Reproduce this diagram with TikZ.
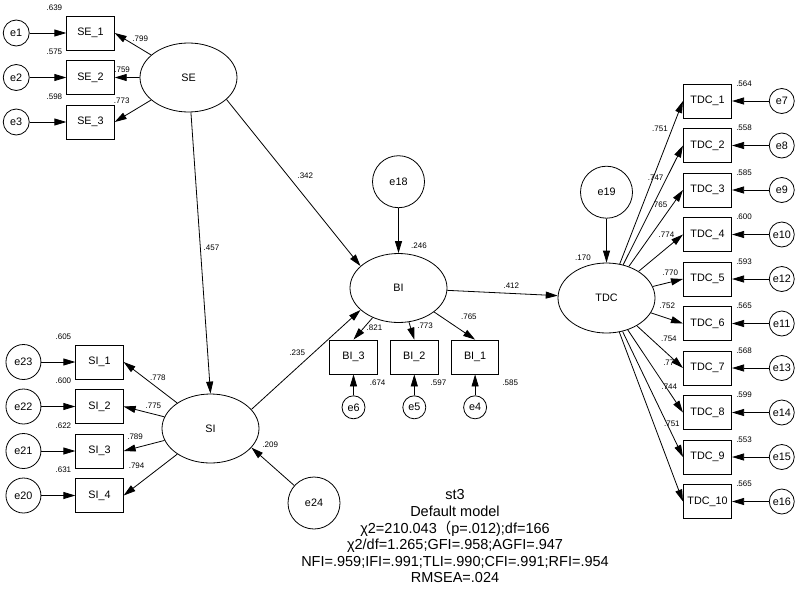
\documentclass[tikz,border=0pt]{standalone}
\usepackage{fontspec}
\setmainfont{Liberation Sans}
\newfontfamily\cjk{Noto Sans CJK SC}
\usetikzlibrary{arrows.meta,positioning,shapes.geometric}

\begin{document}
\begin{tikzpicture}[x=1pt,y=-1pt,node distance=9.7pt,>={Triangle[length=12pt,width=7pt]},
 box/.style={draw,line width=.8pt,minimum width=47.5pt,minimum height=34pt,inner sep=0pt,font=\fontsize{10.8}{13}\selectfont},
 lat/.style={draw,ellipse,line width=.8pt,minimum width=97pt,minimum height=69pt,inner sep=0pt,font=\fontsize{10.8}{13}\selectfont},
 err/.style={draw,circle,line width=.8pt,minimum size=#1,inner sep=0pt,font=\fontsize{10.8}{13}\selectfont},
 err/.default=26pt,
 lab/.style={font=\fontsize{8}{9.6}\selectfont,inner sep=1pt},
 rsq/.style={label={[lab,anchor=south east,xshift=-3pt,yshift=4pt]north west:#1}},
 rsqr/.style={label={[lab,anchor=west,xshift=3pt]north east:#1}},
 arr/.style={->,line width=.8pt}]
\useasboundingbox (0,0) rectangle (799,589);
\node[lat] (se) at (188.5,77.5) {SE};
\node[box,rsq=.639] (se1) at (90.5,33) {SE\_1};
\node[box,rsq=.575,below=of se1] (se2) {SE\_2};
\node[box,rsq=.598,below=of se2] (se3) {SE\_3};
\node[err,left=36.7pt of se1] (e1) {e1};
\node[err,left=36.7pt of se2] (e2) {e2};
\node[err,left=36.7pt of se3] (e3) {e3};
\node[lat] (si) at (210.5,428.5) {SI};
\node[box,rsq=.605] (si1) at (99.5,362) {SI\_1};
\node[box,rsq=.600,below=of si1] (si2) {SI\_2};
\node[box,rsq=.622,below=of si2] (si3) {SI\_3};
\node[box,rsq=.631,below=of si3] (si4) {SI\_4};
\node[err=35pt,left=34pt of si1] (e23) {e23};
\node[err=35pt,left=34pt of si2] (e22) {e22};
\node[err=35pt,left=34pt of si3] (e21) {e21};
\node[err=35pt,left=34pt of si4] (e20) {e20};
\node[err=52pt] (e24) at (314,503) {e24};
\node[lat,label={[lab,anchor=south west,xshift=11.5pt,yshift=3pt]north:.246}] (bi) at (398.5,288) {BI};
\node[err=52pt,above=45pt of bi] (e18) {e18};
\node[box,label={[lab,anchor=north,yshift=-4pt]south east:.674}] (bi3) at (353.5,357) {BI\_3};
\node[box,right=12.5pt of bi3,label={[lab,anchor=north,yshift=-4pt]south east:.597}] (bi2) {BI\_2};
\node[box,right=12.5pt of bi2,label={[lab,anchor=north,xshift=11pt,yshift=-4pt]south east:.585}] (bi1) {BI\_1};
\node[err=23pt,below=21pt of bi3] (e6) {e6};
\node[err=23pt,below=21pt of bi2] (e5) {e5};
\node[err=23pt,below=21pt of bi1] (e4) {e4};
\node[lat,minimum height=70pt,label={[lab,anchor=south east,xshift=-14.5pt,yshift=1pt]north:.170}] (tdc) at (606.5,298) {TDC};
\node[err=52pt,above=44pt of tdc] (e19) {e19};
\node[box,minimum width=48.3pt,rsqr=.564] (tdc1) at (707.5,101) {TDC\_1};
\node[box,minimum width=48.3pt,rsqr=.558,below=of tdc1] (tdc2) {TDC\_2};
\node[box,minimum width=48.3pt,rsqr=.585,below=of tdc2] (tdc3) {TDC\_3};
\node[box,minimum width=48.3pt,rsqr=.600,below=of tdc3] (tdc4) {TDC\_4};
\node[box,minimum width=48.3pt,rsqr=.593,below=of tdc4] (tdc5) {TDC\_5};
\node[box,minimum width=48.3pt,rsqr=.565,below=of tdc5] (tdc6) {TDC\_6};
\node[box,minimum width=48.3pt,rsqr=.568,below=of tdc6] (tdc7) {TDC\_7};
\node[box,minimum width=48.3pt,rsqr=.599,below=of tdc7] (tdc8) {TDC\_8};
\node[box,minimum width=48.3pt,rsqr=.553,below=of tdc8] (tdc9) {TDC\_9};
\node[box,minimum width=48.3pt,rsqr=.565,below=of tdc9] (tdc10) {TDC\_10};
\node[err=25pt,right=36.8pt of tdc1] (e7) {e7};
\node[err=25pt,right=36.8pt of tdc2] (e8) {e8};
\node[err=25pt,right=36.8pt of tdc3] (e9) {e9};
\node[err=25pt,right=36.8pt of tdc4] (e10) {e10};
\node[err=25pt,right=36.8pt of tdc5] (e12) {e12};
\node[err=25pt,right=36.8pt of tdc6] (e11) {e11};
\node[err=25pt,right=36.8pt of tdc7] (e13) {e13};
\node[err=25pt,right=36.8pt of tdc8] (e14) {e14};
\node[err=25pt,right=36.8pt of tdc9] (e15) {e15};
\node[err=25pt,right=36.8pt of tdc10] (e16) {e16};
\node[font=\fontsize{14.5}{16.6}\selectfont,align=center,inner sep=0pt,anchor=north] (fit) at (455,489.5) {st3\\Default model\\χ2=210.043{\cjk （}p=.012);df=166\\χ2/df=1.265;GFI=.958;AGFI=.947\\NFI=.959;IFI=.991;TLI=.990;CFI=.991;RFI=.954\\RMSEA=.024};
\draw[arr] (e1)--(se1);
\draw[arr] (e2)--(se2);
\draw[arr] (e3)--(se3);
\draw[arr] (se)--node[lab,pos=.3,above=5.5pt]{.799}(se1.east);
\draw[arr] (se)--node[lab,pos=.7,above=3.5pt]{.759}(se2.east);
\draw[arr] (se)--node[lab,pos=.5,above left=6pt and 2pt]{.773}(se3.east);
\draw[arr] (e23)--(si1);
\draw[arr] (e22)--(si2);
\draw[arr] (e21)--(si3);
\draw[arr] (e20)--(si4);
\draw[arr] (si)--node[lab,pos=.36,above=6pt]{.778}(si1.east);
\draw[arr] (si)--node[lab,pos=.27,above=4pt]{.775}(si2.east);
\draw[arr] (si)--node[lab,pos=.72,above=7pt]{.789}(si3.east);
\draw[arr] (si)--node[lab,pos=.55,above left=7pt and 2pt]{.794}(si4.east);
\draw[arr] (se)--node[lab,pos=.48,right=2pt]{.457}(si.north);
\draw[arr] (se.-30)--node[lab,pos=.46,right=8pt]{.342}(bi.150);
\draw[arr] (si.25)--node[lab,pos=.42,above=11pt]{.235}(bi.210);
\draw[arr] (e24)--node[lab,pos=.8,above right=6pt and 1pt]{.209}(si.-25);
\draw[arr] (e18)--(bi);
\draw[arr] (bi)--node[lab,pos=.44,right=1pt]{.821}(bi3.north);
\draw[arr] (bi)--node[lab,pos=.18,right=6pt]{.773}(bi2.north);
\draw[arr] (bi)--node[lab,pos=.6,above right=8pt and 1pt]{.765}(bi1.north);
\draw[arr] (e6)--(bi3);
\draw[arr] (e5)--(bi2);
\draw[arr] (e4)--(bi1);
\draw[arr] (bi)--node[lab,pos=.58,above=4pt]{.412}(tdc);
\draw[arr] (e19)--(tdc);
\draw[arr] (tdc)--node[lab,pos=.83,left=3pt]{.751}(tdc1.west);
\draw[arr] (tdc)--node[lab,pos=.73,left=2pt]{.747}(tdc2.west);
\draw[arr] (tdc)--node[lab,pos=.81,left=4pt]{.765}(tdc3.west);
\draw[arr] (tdc)--node[lab,pos=.85,above left=1pt]{.774}(tdc4.west);
\draw[arr] (tdc)--node[lab,pos=.58,above=5pt]{.770}(tdc5.west);
\draw[arr] (tdc)--node[lab,pos=.51,above=8pt]{.752}(tdc6.west);
\draw[arr] (tdc)--node[lab,pos=.45,above right=3pt]{.754}(tdc7.west);
\draw[arr] (tdc)--node[lab,pos=.4,right=12pt]{.774}(tdc8.west);
\draw[arr] (tdc)--node[lab,pos=.44,right=11pt]{.744}(tdc9.west);
\draw[arr] (tdc)--node[lab,pos=.54,right=9pt]{.751}(tdc10.west);
\draw[arr] (e7)--(tdc1);
\draw[arr] (e8)--(tdc2);
\draw[arr] (e9)--(tdc3);
\draw[arr] (e10)--(tdc4);
\draw[arr] (e12)--(tdc5);
\draw[arr] (e11)--(tdc6);
\draw[arr] (e13)--(tdc7);
\draw[arr] (e14)--(tdc8);
\draw[arr] (e15)--(tdc9);
\draw[arr] (e16)--(tdc10);
\end{tikzpicture}
\end{document}
